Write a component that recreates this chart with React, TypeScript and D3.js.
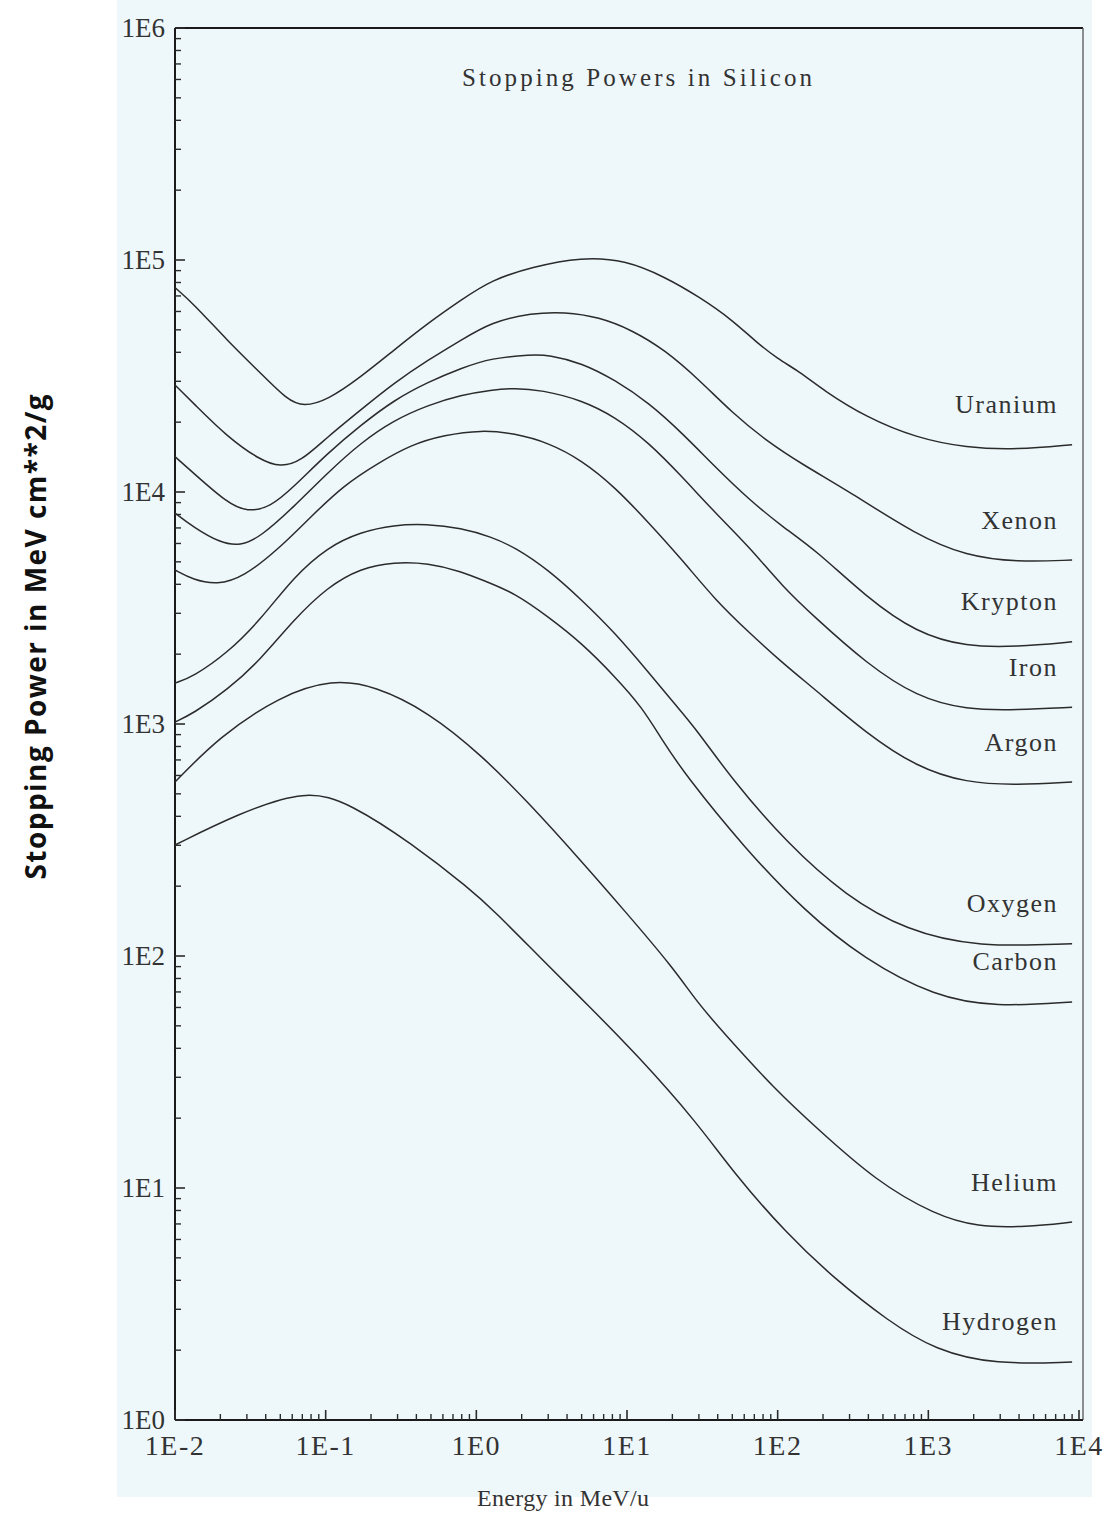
import React from "react";
import * as d3 from "d3";

// Axis ticks (log decades)
const energyTicks = [0.01, 0.1, 1, 10, 100, 1000, 10000];
const energyTickLabels = ["1E-2", "1E-1", "1E0", "1E1", "1E2", "1E3", "1E4"];
const powerTicks = [1, 10, 100, 1000, 1e4, 1e5, 1e6];
const powerTickLabels = ["1E0", "1E1", "1E2", "1E3", "1E4", "1E5", "1E6"];

// Stopping power (MeV cm^2/g) versus energy (MeV/u), [energy, stopping power]
const uranium: [number, number][] = [
  [0.01, 76000], [0.0132, 65000], [0.0222, 45000], [0.0369, 32600], [0.0558, 24900],
  [0.0713, 23300], [0.103, 24900], [0.171, 31300], [0.284, 40900], [0.479, 53500],
  [0.794, 67300], [1.26, 82000], [2.33, 93300], [5.01, 103000], [9.7, 100000],
  [17.9, 84500], [30.2, 69300], [50.1, 55100], [71.3, 44500], [100, 37500],
  [140, 33000], [200, 27500], [386, 21000], [832, 17100], [1790, 15500],
  [3860, 15200], [9000, 16000],
];
const xenon: [number, number][] = [
  [0.01, 28900], [0.0132, 24200], [0.0222, 17300], [0.0369, 13700], [0.0501, 12800],
  [0.0681, 13500], [0.103, 17300], [0.171, 22600], [0.284, 29500], [0.479, 37100],
  [0.794, 45200], [1.26, 54100], [2.33, 59100], [3.86, 59700], [6.5, 56800],
  [10.8, 49900], [17.9, 40900], [30.2, 30400], [50.1, 21900], [83.2, 16700],
  [147, 13100], [302, 10000], [832, 6530], [1790, 5300], [3860, 4990], [9000, 5090],
];
const krypton: [number, number][] = [
  [0.01, 14200], [0.0132, 12100], [0.0222, 8970], [0.0302, 8200], [0.043, 8610],
  [0.0612, 10500], [0.103, 14700], [0.171, 19400], [0.284, 24900], [0.479, 29800],
  [0.794, 34200], [1.26, 37800], [2.33, 39100], [3.02, 39000], [5.01, 36000],
  [8.32, 30400], [14.0, 24200], [23.3, 17900], [38.6, 12800], [65.0, 9240],
  [108, 7070], [179, 5620], [386, 3530], [832, 2470], [1790, 2150], [3860, 2150],
  [9000, 2260],
];
const iron: [number, number][] = [
  [0.01, 8120], [0.0132, 7070], [0.02, 6030], [0.0271, 5850], [0.0369, 6400],
  [0.0612, 8610], [0.103, 12100], [0.171, 16300], [0.284, 20400], [0.479, 23700],
  [0.794, 26200], [1.26, 27500], [1.79, 28100], [2.71, 27500], [5.01, 24900],
  [8.32, 21100], [14.0, 16300], [23.3, 11600], [38.6, 8120], [65.0, 5790],
  [108, 3900], [179, 2860], [386, 1830], [832, 1310], [1790, 1150], [3860, 1150],
  [9000, 1180],
];
const argon: [number, number][] = [
  [0.01, 4610], [0.0132, 4180], [0.0191, 3980], [0.0284, 4300], [0.0479, 5620],
  [0.0794, 7800], [0.132, 10700], [0.222, 13300], [0.369, 16000], [0.612, 17600],
  [1.08, 18500], [1.79, 17900], [3.02, 16300], [5.01, 13700], [8.32, 10500],
  [14.0, 7350], [23.3, 5090], [38.6, 3420], [65.0, 2470], [108, 1830], [179, 1400],
  [386, 914], [832, 653], [1790, 557], [3860, 546], [9000, 562],
];
const oxygen: [number, number][] = [
  [0.01, 1500], [0.0132, 1600], [0.0222, 2020], [0.0369, 2810], [0.0612, 4300],
  [0.103, 5790], [0.171, 6730], [0.284, 7210], [0.464, 7280], [0.794, 7000],
  [1.26, 6400], [1.79, 5790], [3.02, 4610], [5.01, 3420], [8.32, 2470], [14.0, 1660],
  [20.9, 1210], [28.4, 961], [50.1, 574], [115, 307], [284, 181], [713, 129],
  [2120, 109], [9000, 113],
];
const carbon: [number, number][] = [
  [0.01, 1020], [0.0132, 1110], [0.0222, 1400], [0.0369, 1890], [0.0612, 2810],
  [0.103, 3900], [0.171, 4700], [0.284, 4990], [0.479, 4940], [0.794, 4550],
  [1.17, 4100], [1.79, 3670], [3.02, 2890], [5.01, 2230], [8.32, 1600], [12.6, 1180],
  [17.1, 853], [24.4, 603], [60.3, 292], [151, 156], [374, 97], [1110, 66.6],
  [2800, 60.3], [9000, 63.4],
];
const helium: [number, number][] = [
  [0.01, 562], [0.0196, 879], [0.0494, 1320], [0.111, 1560], [0.212, 1460],
  [0.479, 1130], [1.1, 728], [2.26, 452], [4.71, 267], [9.7, 156], [20.3, 88.8],
  [29.3, 63], [45.7, 45.2], [95.5, 26.7], [182, 18.1], [450, 10.7], [1110, 7.65],
  [2120, 6.79], [4430, 6.79], [9000, 7.13],
];
const hydrogen: [number, number][] = [
  [0.01, 301], [0.0259, 409], [0.0747, 525], [0.147, 452], [0.369, 307],
  [0.912, 194], [1.32, 156], [2.71, 97.1], [5.66, 60.3], [11.7, 37.4], [29.3, 19.1],
  [50.1, 11.8], [115, 6.34], [236, 4.09], [541, 2.67], [1110, 2.0], [2800, 1.73],
  [9000, 1.78],
];

const ionNames = ["Uranium", "Xenon", "Krypton", "Iron", "Argon", "Oxygen", "Carbon", "Helium", "Hydrogen"];
const ionCurves = [uranium, xenon, krypton, iron, argon, oxygen, carbon, helium, hydrogen];

const W = 1110;
const H = 1517;
const serif = "'Liberation Serif', 'Times New Roman', serif";
const ink = "#2b2b2b";

export default function App() {
  const left = 175;
  const right = 1079;
  const top = 28;
  const bottom = 1420;

  const x = d3.scaleLog().domain([0.01, 1e4]).range([left, right]);
  const y = d3.scaleLog().domain([1, 1e6]).range([bottom, top]);

  const line = d3
    .line<[number, number]>()
    .x((d) => x(d[0]))
    .y((d) => y(d[1]))
    .curve(d3.curveBasis);

  const minorX: number[] = [];
  for (let p = -2; p < 4; p++) for (let k = 2; k <= 9; k++) minorX.push(k * Math.pow(10, p));
  const minorY: number[] = [];
  for (let p = 0; p < 6; p++) for (let k = 2; k <= 9; k++) minorY.push(k * Math.pow(10, p));

  const frameRight = right + 4;

  return (
    <div style={{ position: "absolute", left: 0, top: 0, width: W, height: H }}>
      <svg width={W} height={H} viewBox={`0 0 ${W} ${H}`} style={{ display: "block" }}>
        <rect x={0} y={0} width={W} height={H} fill="#ffffff" />
        <rect x={117} y={0} width={975} height={1497} fill="#eef8fb" />

        {/* frame */}
        <line x1={left} y1={top} x2={frameRight} y2={top} stroke="#1a1a1a" strokeWidth={2} />
        <line x1={frameRight} y1={top} x2={frameRight} y2={bottom} stroke="#555" strokeWidth={1.3} />
        <line x1={left} y1={top} x2={left} y2={bottom} stroke="#1a1a1a" strokeWidth={2} />
        <line x1={left} y1={bottom} x2={frameRight} y2={bottom} stroke="#1a1a1a" strokeWidth={2} />

        {/* y ticks */}
        {minorY.map((v) => (
          <line key={`my${v}`} x1={left} x2={left + 6} y1={y(v)} y2={y(v)} stroke={ink} strokeWidth={1.4} />
        ))}
        {powerTicks.map((v, i) => (
          <g key={`py${v}`}>
            <line x1={left} x2={left + 10} y1={y(v)} y2={y(v)} stroke={ink} strokeWidth={1.6} />
            <text
              x={165}
              y={y(v)}
              textAnchor="end"
              dominantBaseline="central"
              fontFamily={serif}
              fontSize={27}
              fill="#333"
            >
              {powerTickLabels[i]}
            </text>
          </g>
        ))}

        {/* x ticks */}
        {minorX.map((v) => (
          <line key={`mx${v}`} x1={x(v)} x2={x(v)} y1={bottom} y2={bottom - 6} stroke={ink} strokeWidth={1.4} />
        ))}
        {energyTicks.map((v, i) => (
          <g key={`px${v}`}>
            <line x1={x(v)} x2={x(v)} y1={bottom} y2={bottom - 10} stroke={ink} strokeWidth={1.6} />
            <text
              x={x(v)}
              y={1455}
              textAnchor="middle"
              fontFamily={serif}
              fontSize={28}
              letterSpacing={1.5}
              fill="#333"
            >
              {energyTickLabels[i]}
            </text>
          </g>
        ))}

        {/* curves */}
        {ionCurves.map((pts, i) => (
          <path key={ionNames[i]} d={line(pts) || ""} fill="none" stroke={ink} strokeWidth={1.5} />
        ))}

        {/* curve labels */}
        {ionCurves.map((pts, i) => {
          const last = pts[pts.length - 1];
          return (
            <text
              key={`lbl${ionNames[i]}`}
              x={1058}
              y={y(last[1]) - 40}
              textAnchor="end"
              dominantBaseline="central"
              fontFamily={serif}
              fontSize={26}
              letterSpacing={1.5}
              fill="#333"
            >
              {ionNames[i]}
            </text>
          );
        })}

        {/* titles */}
        <text
          x={637}
          y={77}
          textAnchor="middle"
          dominantBaseline="central"
          fontFamily={serif}
          fontSize={25}
          textLength={350}
          lengthAdjust="spacing"
          fill="#333"
        >
          Stopping Powers in Silicon
        </text>
        <text
          x={563}
          y={1498}
          textAnchor="middle"
          dominantBaseline="central"
          fontFamily={serif}
          fontSize={24}
          textLength={172}
          lengthAdjust="spacing"
          fill="#333"
        >
          Energy in MeV/u
        </text>
        <text
          transform="translate(35,637) rotate(-90)"
          textAnchor="middle"
          dominantBaseline="central"
          fontFamily="'Open Sans', 'DejaVu Sans', sans-serif"
          fontWeight="bold"
          fontSize={28}
          textLength={485}
          lengthAdjust="spacing"
          fill="#111"
        >
          Stopping Power in MeV cm**2/g
        </text>
      </svg>
    </div>
  );
}
